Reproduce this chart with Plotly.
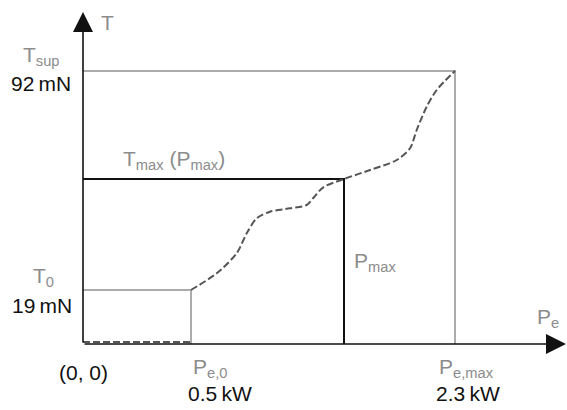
import plotly.graph_objects as go

# Schematic operating envelope of a thruster: thrust T versus electric power P_e.
# Positions are in drawing units (the diagram is not to scale).
power_pos = [1.08, 2.61, 3.72]          # P_e,0, P_max, P_e,max
power_labels = ["0.5\u2009kW", "", "2.3\u2009kW"]
thrust_pos = [0.54, 1.65, 2.73]         # T_0, T_max, T_sup
thrust_labels = ["19\u2009mN", "", "92\u2009mN"]

# Thrust-power characteristic between (P_e,0, T_0) and (P_e,max, T_sup)
curve_p = [1.08, 1.337, 1.537, 1.637, 1.737, 1.87, 2.07, 2.237, 2.30, 2.403,
           2.61, 2.87, 3.137, 3.27, 3.337, 3.437, 3.537, 3.72]
curve_t = [0.54, 0.707, 0.907, 1.107, 1.257, 1.323, 1.357, 1.39, 1.457, 1.567,
           1.65, 1.74, 1.84, 1.957, 2.14, 2.373, 2.54, 2.73]

axis_end_p = 4.83
axis_end_t = 3.32

GRAY_TXT = "#8c8c8c"
GRAY_LN = "#ababab"
DARK = "#555555"
BLACK = "#111111"
FONT = "Liberation Sans, Arial, sans-serif"

pe0, pmax, pemax = power_pos
t0, tmax, tsup = thrust_pos

fig = go.Figure()

def seg(xs, ys, color, width=2, dash=None):
    fig.add_trace(go.Scatter(x=xs, y=ys, mode="lines",
                             line=dict(color=color, width=width, dash=dash),
                             hoverinfo="skip", showlegend=False))

# T_sup / P_e,max bounding lines
seg([0, pemax, pemax], [tsup, tsup, 0], GRAY_LN)
# T_0 / P_e,0 box
seg([0, pe0, pe0], [t0, t0, 0], GRAY_LN)
# T_max / P_max lines
seg([0, pmax, pmax], [tmax, tmax, 0], BLACK)
# zero-thrust segment below P_e,0
seg([0, pe0], [0.02, 0.02], DARK, 2, "7px,3px")
# characteristic curve
fig.add_trace(go.Scatter(x=curve_p, y=curve_t, mode="lines",
                         line=dict(color=DARK, width=2, dash="7px,3px",
                                   shape="spline", smoothing=0.8),
                         hoverinfo="skip", showlegend=False))

# axes with arrowheads
for (x, y) in [(0, axis_end_t), (axis_end_p, 0)]:
    fig.add_annotation(x=x, y=y, ax=0, ay=0, xref="x", yref="y",
                       axref="x", ayref="y", text="", showarrow=True,
                       arrowhead=2, arrowsize=2.5, arrowwidth=1.6,
                       arrowcolor=BLACK, standoff=0)

def label(x, y, text, color, size=21):
    fig.add_annotation(x=x, y=y, xref="x", yref="y", text=text,
                       showarrow=False, font=dict(family=FONT, size=size, color=color))

label(0.24, 3.215, "T", GRAY_TXT)
label(-0.42, 2.88, "T<sub>sup</sub>", GRAY_TXT)
label(-0.42, 2.61, thrust_labels[2], BLACK)
label(0.91, 1.84, "T<sub>max</sub> (P<sub>max</sub>)", GRAY_TXT)
label(-0.40, 0.67, "T<sub>0</sub>", GRAY_TXT)
label(-0.413, 0.385, thrust_labels[0], BLACK)
label(0.0, -0.28, "(0, 0)", BLACK)
label(2.915, 0.82, "P<sub>max</sub>", GRAY_TXT)
label(4.65, 0.26, "P<sub>e</sub>", GRAY_TXT)
label(1.27, -0.24, "P<sub>e,0</sub>", GRAY_TXT)
label(1.365, -0.495, power_labels[0], BLACK)
label(3.83, -0.24, "P<sub>e,max</sub>", GRAY_TXT)
label(3.845, -0.495, power_labels[2], BLACK)

fig.update_layout(
    width=567, height=410,
    margin=dict(l=0, r=0, t=0, b=0),
    paper_bgcolor="white", plot_bgcolor="white",
    xaxis=dict(range=[-0.83, 4.84], visible=False, fixedrange=True),
    yaxis=dict(range=[-0.66, 3.44], visible=False, fixedrange=True),
    showlegend=False,
)

fig.write_html("out.html")
